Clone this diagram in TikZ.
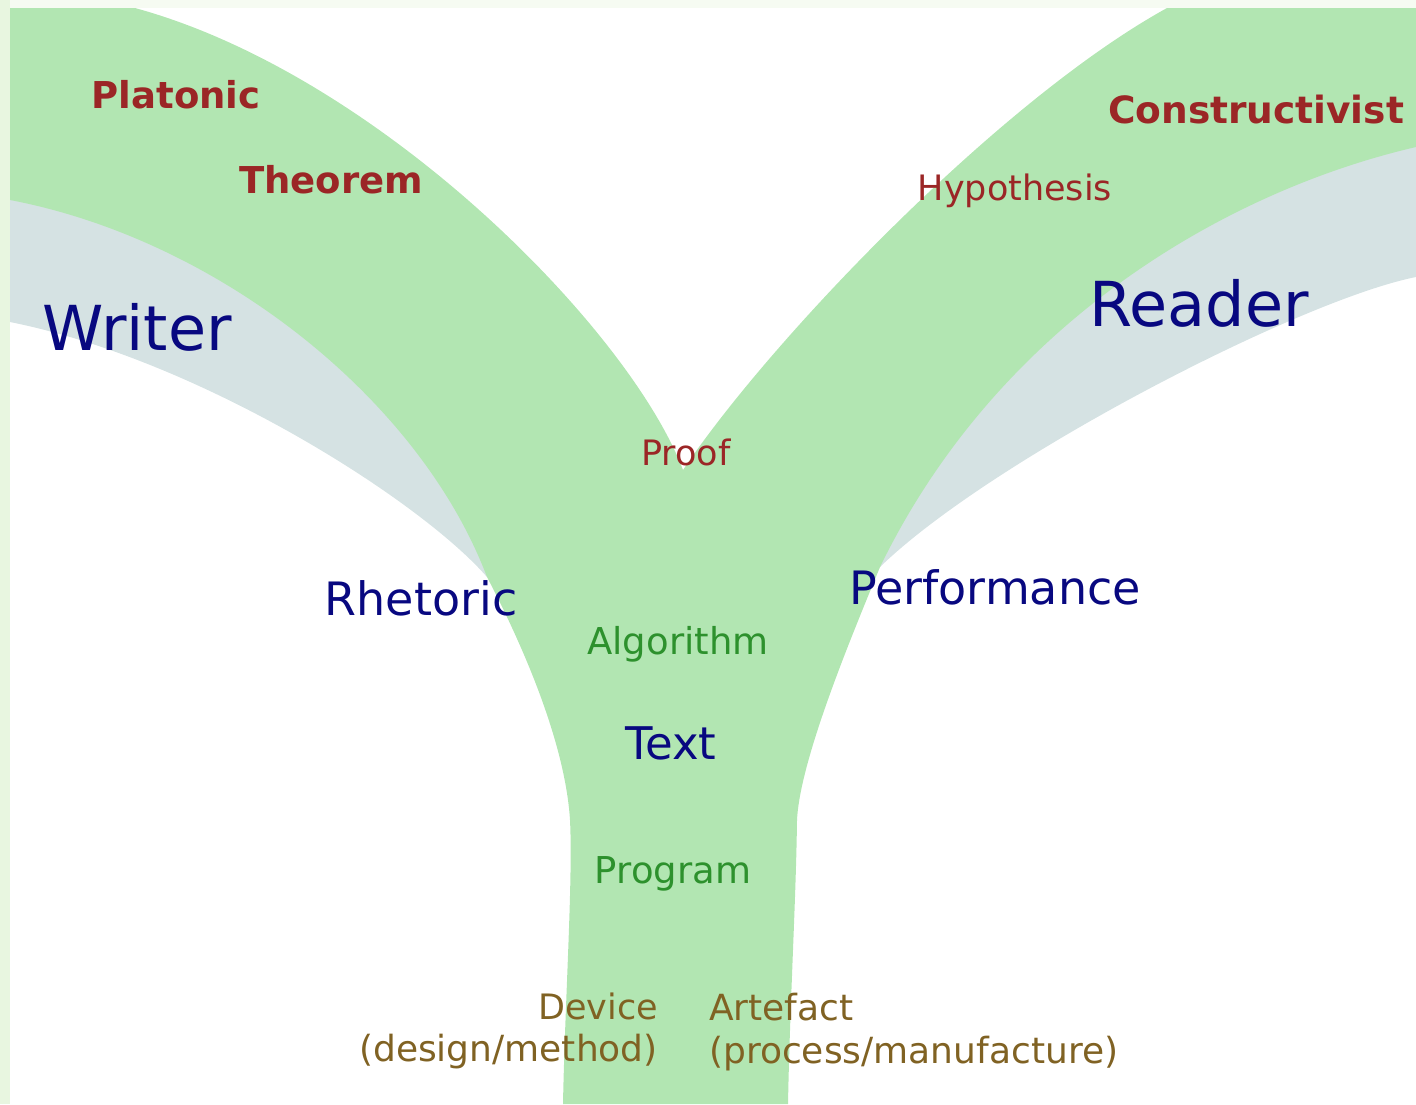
\documentclass[tikz,border=0pt]{standalone}
\usepackage{fontspec}
\setmainfont{DejaVu Sans}
\usepackage{xcolor}
\usepackage{tikz}

\definecolor{branch}{RGB}{178,230,178}
\definecolor{mist}{RGB}{213,226,227}
\definecolor{rim}{RGB}{232,246,224}
\definecolor{rimtop}{RGB}{246,251,242}
\definecolor{wine}{RGB}{155,38,38}
\definecolor{ink}{RGB}{8,8,128}
\definecolor{leaf}{RGB}{45,145,45}
\definecolor{ochre}{RGB}{128,98,35}

\begin{document}
\begin{tikzpicture}[x=1pt, y=-1pt,
        every node/.style={inner sep=0pt, anchor=base},
        wordR/.style={text=wine, font=\fontsize{#1}{#1}\selectfont\bfseries},
        wordr/.style={text=wine, font=\fontsize{#1}{#1}\selectfont},
        wordB/.style={text=ink, font=\fontsize{#1}{#1}\selectfont},
        wordG/.style={text=leaf, font=\fontsize{#1}{#1}\selectfont},
        wordO/.style={text=ochre, font=\fontsize{#1}{#1}\selectfont}]
        \useasboundingbox (0,0) rectangle (1416,1104);
        \fill[rim] (0,0) rectangle (10,1104);
        \fill[rimtop] (10,0) rectangle (1416,8);

        % grey bands, tucked under the green
        \fill[mist] (10,180) -- (10,322) .. controls (200,360) and (420,500) .. (487,577)
            -- (530,560) -- (420,330) -- (200,200) -- cycle;
        \fill[mist] (1416,130) -- (1416,277) .. controls (1300,300) and (990,460) .. (880,567)
            -- (860,560) -- (980,330) -- (1200,190) -- cycle;

        % the green Y
        \fill[branch] (10,8) -- (135,8)
            .. controls (380,75) and (630,330) .. (683,470)
            .. controls (770,340) and (1000,100) .. (1167,8)
            -- (1416,8) -- (1416,147)
            .. controls (1230,190) and (1000,320) .. (880,567)
            .. controls (850,640) and (800,760) .. (797,820)
            .. controls (796,900) and (790,1000) .. (788,1104)
            -- (563,1104)
            .. controls (565,1000) and (573,880) .. (570,820)
            .. controls (565,740) and (520,640) .. (487,577)
            .. controls (420,400) and (220,240) .. (10,200)
            -- cycle;

        \node (plat) [wordR=37] at (176,108) {Platonic};
        \node (theo) [wordR=37] at (331,193) {Theorem};
        \node (cons) [wordR=37.5] at (1256,123) {Constructivist};
        \node (hypo) [wordr=35] at (1015,200) {Hypothesis};
        \node (writ) [wordB=62] at (137,350) {Writer};
        \node (read) [wordB=62] at (1199,326) {Reader};
        \node (proo) [wordr=35] at (686,465) {Proof};
        \node (rhet) [wordB=46] at (421,615) {Rhetoric};
        \node (perf) [wordB=46] at (995,604) {Performance};
        \node (algo) [wordG=37] at (678,654) {Algorithm};
        \node (text) [wordB=45] at (671,759) {Text};
        \node (prog) [wordG=37] at (673,883) {Program};
        \node (devi) [wordO=35, anchor=base east] at (658,1019) {Device};
        \node (desi) [wordO=36, anchor=base east] at (658,1061) {(design/method)};
        \node (arte) [wordO=36, anchor=base west] at (709,1020) {Artefact};
        \node (proc) [wordO=36, anchor=base west] at (709,1063) {(process/manufacture)};
\end{tikzpicture}
\end{document}
